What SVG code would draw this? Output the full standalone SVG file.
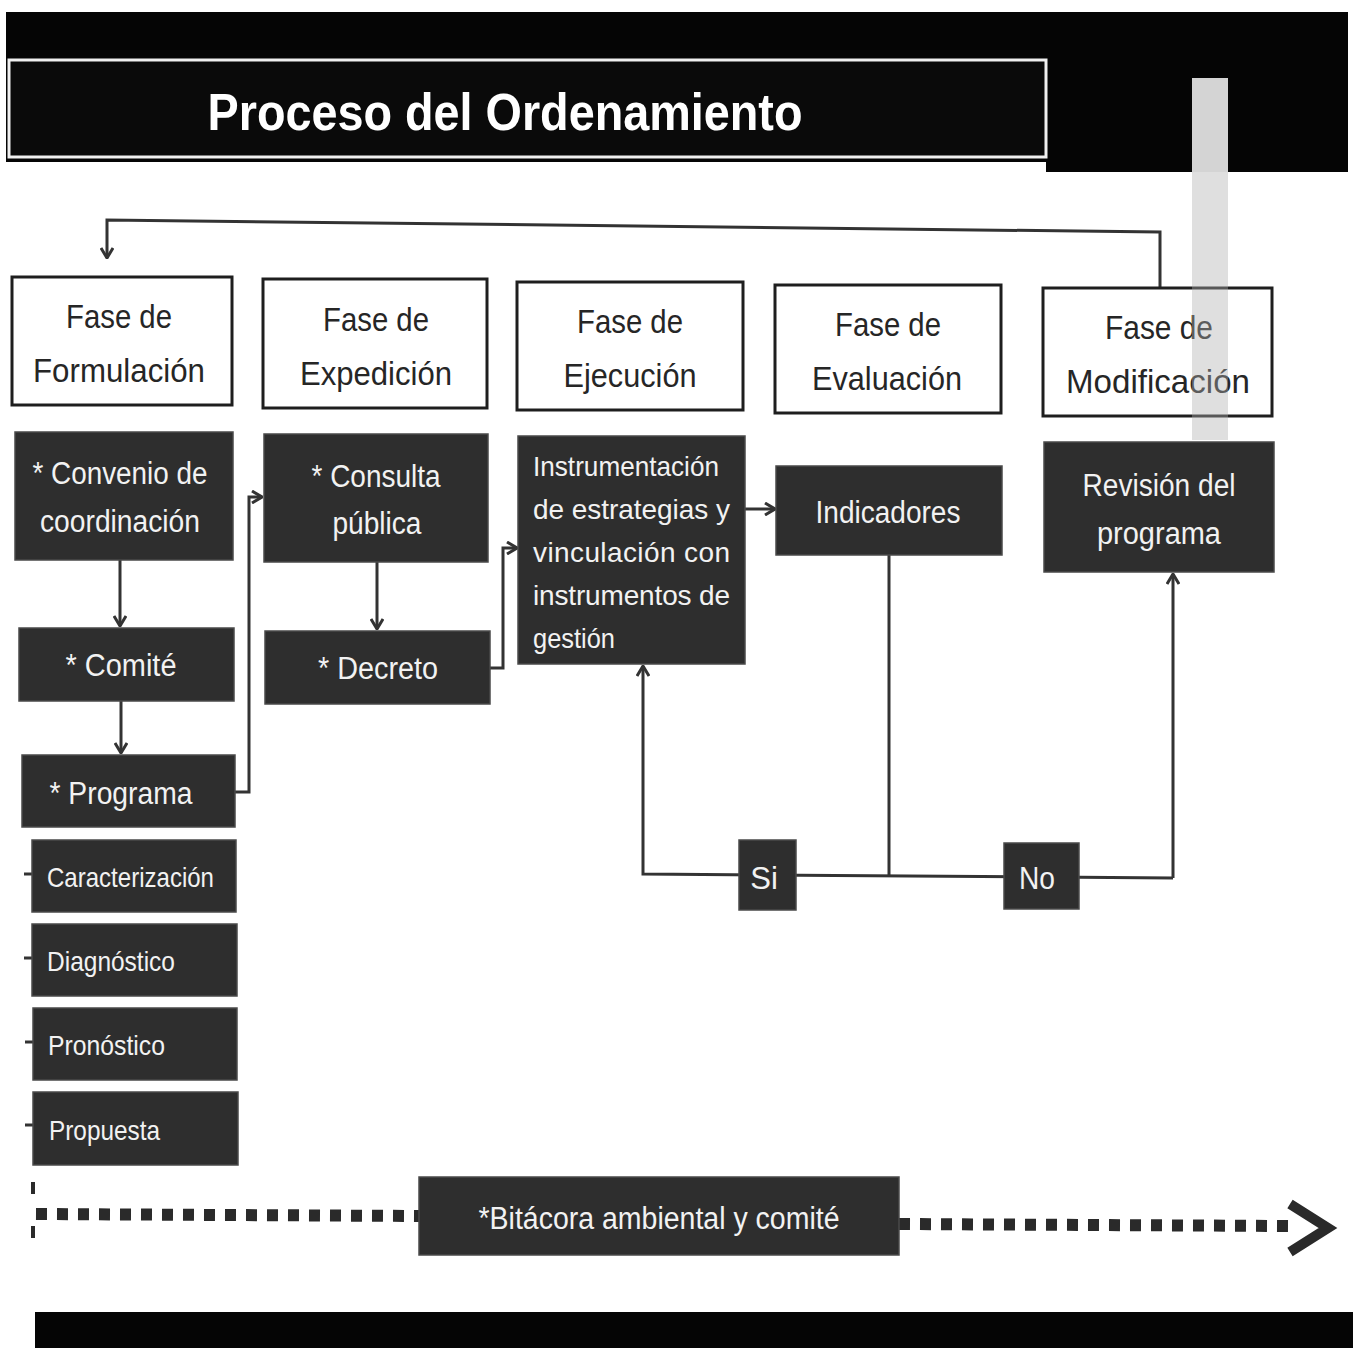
<svg xmlns="http://www.w3.org/2000/svg" width="1353" height="1355" viewBox="0 0 1353 1355">
<style>
.hdr{fill:#ffffff;stroke:#1e1e1e;stroke-width:3}
.hdrt{font-family:"Liberation Sans",Arial,sans-serif;font-size:34px;fill:#262626;text-anchor:middle}
.dk{fill:#2e2e2e;stroke:#4a4a4a;stroke-width:1.5}
.dkt{font-family:"Liberation Sans",Arial,sans-serif;font-size:31px;fill:#f2f2f2;text-anchor:middle}
.dkl{font-family:"Liberation Sans",Arial,sans-serif;font-size:28px;fill:#f2f2f2}
.cn{fill:none;stroke:#333333;stroke-width:3}
.dot{fill:none;stroke:#2a2a2a;stroke-width:12;stroke-dasharray:11 10}
</style>
<defs>
<marker id="ah" viewBox="0 0 12 14" refX="11" refY="7" markerWidth="12" markerHeight="14" markerUnits="userSpaceOnUse" orient="auto">
<path d="M1,1 L11,7 L1,13" fill="none" stroke="#333333" stroke-width="3"/>
</marker>
</defs>
<rect width="1353" height="1355" fill="#ffffff"/>
<g id="banner">
<rect x="6" y="12" width="1342" height="150" fill="#050505"/>
<rect x="1046" y="14" width="302" height="158" fill="#050505"/>
<rect x="9" y="60" width="1037" height="97" fill="#0a0a0a" stroke="#f0f0f0" stroke-width="3"/>
<text x="505" y="130" font-family="Liberation Sans,Arial,sans-serif" font-size="52" font-weight="bold" fill="#ffffff" text-anchor="middle" textLength="595" lengthAdjust="spacingAndGlyphs">Proceso del Ordenamiento</text>
</g>
<g id="connectors">
<polyline class="cn" points="1160,288 1160,232 107,220 107,258" marker-end="url(#ah)"/>
<line class="cn" x1="120" y1="560" x2="120" y2="626" marker-end="url(#ah)"/>
<line class="cn" x1="121" y1="701" x2="121" y2="753" marker-end="url(#ah)"/>
<polyline class="cn" points="235,792 249,792 249,497 262,497" marker-end="url(#ah)"/>
<line class="cn" x1="377" y1="562" x2="377" y2="629" marker-end="url(#ah)"/>
<polyline class="cn" points="490,668 503,668 503,548 517,548" marker-end="url(#ah)"/>
<line class="cn" x1="745" y1="509" x2="775" y2="509" marker-end="url(#ah)"/>
<line class="cn" x1="889" y1="555" x2="889" y2="876"/>
<polyline class="cn" points="1173,878 643,874 643,666" marker-end="url(#ah)"/>
<line class="cn" x1="1173" y1="878" x2="1173" y2="574" marker-end="url(#ah)"/>
<line class="cn" x1="24" y1="874" x2="32" y2="874"/>
<line class="cn" x1="24" y1="958" x2="32" y2="958"/>
<line class="cn" x1="25" y1="1042" x2="33" y2="1042"/>
<line class="cn" x1="25" y1="1125" x2="33" y2="1125"/>
<line class="dot" x1="36" y1="1214" x2="419" y2="1216"/>
<line class="dot" x1="899" y1="1224" x2="1290" y2="1226"/>
<path d="M1290,1204 L1328,1228 L1290,1252" fill="none" stroke="#2a2a2a" stroke-width="10" stroke-linejoin="miter"/>
<path d="M33,1182 L33,1194 M33,1226 L33,1238" stroke="#2a2a2a" stroke-width="4"/>
</g>
<g id="fase-formulacion"><rect class="hdr" x="12" y="277" width="220" height="128"/><text class="hdrt" x="119" y="328" textLength="106" lengthAdjust="spacingAndGlyphs">Fase de</text><text class="hdrt" x="119" y="382" textLength="172" lengthAdjust="spacingAndGlyphs">Formulación</text></g>
<g id="fase-expedicion"><rect class="hdr" x="263" y="279" width="224" height="129"/><text class="hdrt" x="376" y="331" textLength="106" lengthAdjust="spacingAndGlyphs">Fase de</text><text class="hdrt" x="376" y="385" textLength="152" lengthAdjust="spacingAndGlyphs">Expedición</text></g>
<g id="fase-ejecucion"><rect class="hdr" x="517" y="282" width="226" height="128"/><text class="hdrt" x="630" y="333" textLength="106" lengthAdjust="spacingAndGlyphs">Fase de</text><text class="hdrt" x="630" y="387" textLength="133" lengthAdjust="spacingAndGlyphs">Ejecución</text></g>
<g id="fase-evaluacion"><rect class="hdr" x="775" y="285" width="226" height="128"/><text class="hdrt" x="888" y="336" textLength="106" lengthAdjust="spacingAndGlyphs">Fase de</text><text class="hdrt" x="887" y="390" textLength="150" lengthAdjust="spacingAndGlyphs">Evaluación</text></g>
<g id="fase-modificacion"><rect class="hdr" x="1043" y="288" width="229" height="128"/><text class="hdrt" x="1159" y="339" textLength="108" lengthAdjust="spacingAndGlyphs">Fase de</text><text class="hdrt" x="1158" y="393" textLength="184" lengthAdjust="spacingAndGlyphs">Modificación</text></g>
<g id="convenio"><rect class="dk" x="15" y="432" width="218" height="128"/><text class="dkt" x="120" y="484" textLength="175" lengthAdjust="spacingAndGlyphs">* Convenio de</text><text class="dkt" x="120" y="532" textLength="160" lengthAdjust="spacingAndGlyphs">coordinación</text></g>
<g id="comite"><rect class="dk" x="19" y="628" width="215" height="73"/><text class="dkt" x="121" y="676" textLength="111" lengthAdjust="spacingAndGlyphs">* Comité</text></g>
<g id="programa"><rect class="dk" x="22" y="755" width="213" height="72"/><text class="dkt" x="121" y="804" textLength="143" lengthAdjust="spacingAndGlyphs">* Programa</text></g>
<g id="caracterizacion"><rect class="dk" x="32" y="840" width="204" height="72"/><text class="dkl" x="47" y="887" textLength="167" lengthAdjust="spacingAndGlyphs">Caracterización</text></g>
<g id="diagnostico"><rect class="dk" x="32" y="924" width="205" height="72"/><text class="dkl" x="47" y="971" textLength="128" lengthAdjust="spacingAndGlyphs">Diagnóstico</text></g>
<g id="pronostico"><rect class="dk" x="33" y="1008" width="204" height="72"/><text class="dkl" x="48" y="1055" textLength="117" lengthAdjust="spacingAndGlyphs">Pronóstico</text></g>
<g id="propuesta"><rect class="dk" x="33" y="1092" width="205" height="73"/><text class="dkl" x="49" y="1140" textLength="111" lengthAdjust="spacingAndGlyphs">Propuesta</text></g>
<g id="consulta"><rect class="dk" x="264" y="434" width="224" height="128"/><text class="dkt" x="376" y="487" textLength="129" lengthAdjust="spacingAndGlyphs">* Consulta</text><text class="dkt" x="377" y="534" textLength="89" lengthAdjust="spacingAndGlyphs">pública</text></g>
<g id="decreto"><rect class="dk" x="265" y="631" width="225" height="73"/><text class="dkt" x="378" y="679" textLength="120" lengthAdjust="spacingAndGlyphs">* Decreto</text></g>
<g id="instrumentacion"><rect class="dk" x="518" y="436" width="227" height="228"/>
<text class="dkl" x="533" y="476" textLength="186" lengthAdjust="spacingAndGlyphs">Instrumentación</text>
<text class="dkl" x="533" y="519" textLength="197" lengthAdjust="spacing">de  estrategias  y</text>
<text class="dkl" x="533" y="562" textLength="197" lengthAdjust="spacing">vinculación    con</text>
<text class="dkl" x="533" y="605" textLength="197" lengthAdjust="spacing">instrumentos  de</text>
<text class="dkl" x="533" y="648" textLength="82" lengthAdjust="spacingAndGlyphs">gestión</text></g>
<g id="indicadores"><rect class="dk" x="776" y="466" width="226" height="89"/><text class="dkt" x="888" y="523" textLength="145" lengthAdjust="spacingAndGlyphs">Indicadores</text></g>
<g id="revision"><rect class="dk" x="1044" y="442" width="230" height="130"/><text class="dkt" x="1159" y="496" textLength="153" lengthAdjust="spacingAndGlyphs">Revisión del</text><text class="dkt" x="1159" y="544" textLength="124" lengthAdjust="spacingAndGlyphs">programa</text></g>
<g id="si"><rect class="dk" x="739" y="840" width="57" height="70"/><text class="dkt" x="764" y="889">Si</text></g>
<g id="no"><rect class="dk" x="1004" y="843" width="75" height="66"/><text class="dkt" x="1037" y="889" textLength="36" lengthAdjust="spacingAndGlyphs">No</text></g>
<g id="bitacora"><rect class="dk" x="419" y="1177" width="480" height="78"/><text class="dkt" x="659" y="1229" textLength="361" lengthAdjust="spacingAndGlyphs">*Bitácora ambiental y comité</text></g>
<rect x="1192" y="78" width="36" height="94" fill="#d4d4d4"/>
<rect x="1192" y="172" width="36" height="268" fill="#b0b0b0" opacity="0.4"/>
<rect x="35" y="1312" width="1318" height="36" fill="#050505"/>
</svg>
